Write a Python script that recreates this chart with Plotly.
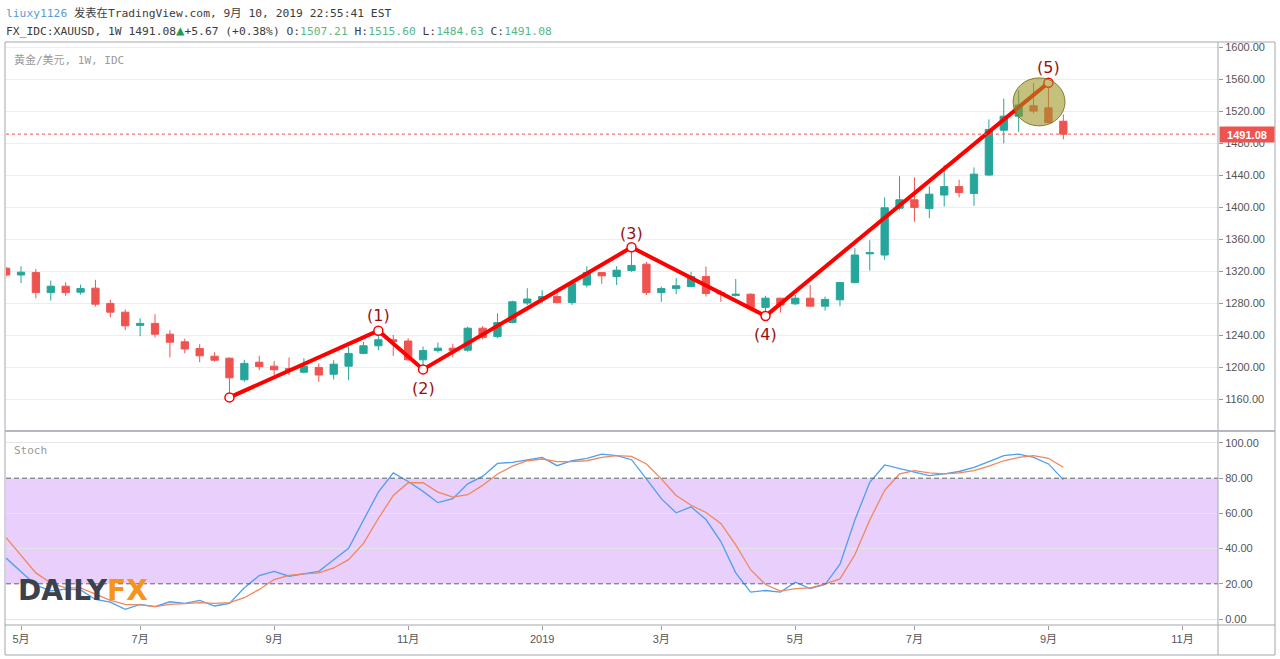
import pandas as pd
import plotly.graph_objects as go

# ---------------- data (weekly XAU/USD bars, Monday dates) ----------------
week_start = "2018-04-30"
n_weeks = 72

opens = [1323.5, 1315, 1318, 1293, 1301, 1293.5, 1298.5, 1279.5, 1268.5, 1252,
         1254.5, 1241, 1231.5, 1223, 1213.5, 1211, 1184, 1206, 1201, 1198,
         1193.5, 1199.5, 1191, 1201, 1217, 1226.5, 1234, 1232.5, 1209, 1220.5,
         1223.5, 1221, 1248.5, 1238, 1255.5, 1280, 1285, 1288, 1280.5, 1302.5,
         1318, 1313, 1320.5, 1328.5, 1293, 1298, 1300.5, 1313, 1293, 1289.5,
         1291, 1274.5, 1286, 1279, 1286, 1276, 1284, 1305.5, 1341.5, 1340,
         1398.5, 1409, 1398, 1415, 1425.5, 1417, 1440, 1496, 1513.5, 1526.5,
         1524, 1507.21]
highs = [1325, 1326, 1322.5, 1308, 1306, 1303, 1309, 1284, 1272, 1261,
         1266, 1246, 1235.5, 1228.5, 1218.5, 1212, 1209, 1214, 1207.5, 1212,
         1211, 1204.5, 1208.5, 1225.5, 1231.5, 1242, 1240, 1236, 1225.5, 1230.5,
         1229, 1250.5, 1251, 1267, 1283, 1298.5, 1296, 1292, 1309, 1326,
         1318.5, 1326, 1347, 1331.5, 1300.5, 1311, 1319, 1325.5, 1296, 1310,
         1292, 1289, 1286.5, 1290, 1302.5, 1288, 1306.5, 1348.5, 1358.5, 1412,
         1438.5, 1437, 1426, 1452.5, 1434, 1449.5, 1509.5, 1535.5, 1546, 1555,
         1557.5, 1515.6]
lows = [1313, 1305, 1286, 1283, 1289, 1290.5, 1275.5, 1262, 1246, 1238.5,
        1237, 1212, 1217, 1206, 1206.5, 1162.5, 1181.5, 1196, 1190, 1190,
        1192, 1181.5, 1184.5, 1183.5, 1216, 1221, 1214, 1208, 1197, 1218,
        1212, 1219, 1234.5, 1236, 1254.5, 1277.5, 1279.5, 1279.5, 1277.5, 1299.5,
        1304, 1302.5, 1319, 1290, 1281.5, 1291, 1299.5, 1288, 1281.5, 1288,
        1271, 1264, 1268, 1277.5, 1275.5, 1270.5, 1276, 1304.5, 1320.5, 1334,
        1396, 1381.5, 1386, 1400.5, 1412, 1401.5, 1438.5, 1479.5, 1494, 1517,
        1504.5, 1484.63]
closes = [1315, 1318.5, 1293, 1301, 1293, 1298, 1278.5, 1268.5, 1251.5, 1254.5,
          1241, 1231, 1222.5, 1214, 1208.5, 1186.5, 1204.5, 1200.5, 1196.5, 1196,
          1200.5, 1190, 1203.5, 1217, 1226.5, 1234, 1232, 1209, 1220.5, 1223.5,
          1220.5, 1248.5, 1237, 1255.5, 1281.5, 1285, 1288, 1280.5, 1304.5, 1318,
          1314, 1321, 1327, 1293, 1298, 1301.5, 1313, 1292, 1291.5, 1291,
          1274.5, 1286, 1277.5, 1286, 1276, 1284.5, 1305.5, 1340, 1343, 1399,
          1409, 1399.5, 1416, 1425.5, 1418, 1441, 1497, 1513.5, 1527.5, 1520,
          1505.5, 1491.08]

stoch_k = [34.6, 27, 19.2, 16, 17, 16.5, 11.1, 9.6, 5.5, 8.3,
           7, 9.8, 8.9, 10.6, 7.4, 8.9, 17.7, 24.7, 27.1, 24.3,
           25.8, 27.1, 33.7, 40.2, 56.2, 72.1, 83, 78.1, 72.5, 66.1,
           68.4, 76.8, 81, 88.4, 89, 90.5, 91.8, 87.1, 89.9, 91.3,
           93.7, 92.8, 90.5, 79.6, 68.4, 60.3, 63.7, 56.5, 44, 26.2,
           15.3, 16.2, 15.3, 20.9, 17.3, 19.6, 31.2, 56.2, 77.7, 87.5,
           85.3, 83.4, 81.5, 82.4, 83.8, 86.2, 89.4, 92.8, 93.7, 91.8,
           88.1, 79.2]
stoch_d = [46.2, 36.5, 26.2, 20.5, 17.7, 17.7, 14, 10.6, 8.3, 8,
           7, 8.3, 8.7, 9.3, 8.9, 9.3, 12.1, 16.8, 22.4, 24.8,
           25.6, 26.2, 29, 33.7, 43, 57.1, 70.2, 77.4, 77.4, 72.1,
           69.3, 70.6, 75.9, 82.4, 86.8, 89.9, 90.9, 89.4, 89.4, 89.9,
           91.8, 92.8, 92.4, 88.1, 79.6, 70.2, 64.6, 60.5, 54.3, 42.1,
           28, 19.6, 15.8, 17.3, 17.7, 20, 22.8, 36.5, 56.2, 73.1,
           82.4, 84.3, 83, 82.4, 83, 84.3, 86.8, 89.9, 91.8, 92.8,
           91.3, 86.2]

# Elliott wave points: bar position (0-based in the series), price, label
wave_bar = [15, 25, 28, 42, 51, 70]
wave_price = [1162, 1245.4, 1197, 1349.6, 1263.75, 1555.4]
wave_label = ["", "(1)", "(2)", "(3)", "(4)", "(5)"]
wave_label_shift = [0, 15, -19, 14, -18, 15]

last_price = 1491.08

month_ticks = ["2018-05-07", "2018-07-02", "2018-09-03", "2018-11-05", "2019-01-07",
               "2019-03-04", "2019-05-06", "2019-07-01", "2019-09-02", "2019-11-04"]
month_text = ["5月", "7月", "9月", "11月", "2019", "3月", "5月", "7月", "9月", "11月"]

price_ticks = [1160, 1200, 1240, 1280, 1320, 1360, 1400, 1440, 1480, 1520, 1560, 1600]
stoch_ticks = [0, 20, 40, 60, 80, 100]

x_range = ["2018-04-29 22:48", "2019-11-20 17:00"]
price_range = [1120, 1606.25]
stoch_range = [-3.4, 106.8]

# ---------------- figure ----------------
W, H = 1280, 659
dates = pd.date_range(week_start, periods=n_weeks, freq="7D")
date_str = [d.strftime("%Y-%m-%d") for d in dates]


def xp(px):
    return px / W


def yp(py):
    return 1 - py / H


def dstr(ts):
    return ts.strftime("%Y-%m-%d %H:%M")


UP, DN = "#26a69a", "#ef5350"
AXFONT = dict(family="Liberation Sans, Arial, Noto Sans CJK SC", size=11, color="#555555")
MONO = "DejaVu Sans Mono, Noto Sans CJK SC"

fig = go.Figure()

fig.add_trace(go.Candlestick(
    x=date_str, open=opens, high=highs, low=lows, close=closes,
    increasing=dict(line=dict(color=UP, width=1), fillcolor=UP),
    decreasing=dict(line=dict(color=DN, width=1), fillcolor=DN),
    whiskerwidth=0, xaxis="x", yaxis="y", showlegend=False, hoverinfo="skip",
))

wave_dates = [date_str[i] for i in wave_bar]
fig.add_trace(go.Scatter(
    x=wave_dates, y=wave_price, mode="lines+markers",
    line=dict(color="#ff0000", width=4),
    marker=dict(symbol="circle", size=9, color="white", line=dict(color="#ff0000", width=1.5)),
    xaxis="x", yaxis="y", showlegend=False, hoverinfo="skip",
))

fig.add_trace(go.Scatter(
    x=date_str, y=stoch_k, mode="lines", line=dict(color="#4c9ff2", width=1.3),
    xaxis="x", yaxis="y2", showlegend=False, hoverinfo="skip",
))
fig.add_trace(go.Scatter(
    x=date_str, y=stoch_d, mode="lines", line=dict(color="#f0875a", width=1.3),
    xaxis="x", yaxis="y2", showlegend=False, hoverinfo="skip",
))

shapes = []
# stochastic band
shapes.append(dict(type="rect", xref="x domain", yref="y2", x0=0, x1=1, y0=20, y1=80,
                   fillcolor="#e9cffc", line=dict(width=0), layer="below"))
for lvl in (20, 80):
    shapes.append(dict(type="line", xref="x domain", yref="y2", x0=0, x1=1, y0=lvl, y1=lvl,
                       line=dict(color="#5f6170", width=1, dash="5px,3px"), layer="above"))
# last price dotted line
shapes.append(dict(type="line", xref="x domain", yref="y", x0=0, x1=1, y0=last_price, y1=last_price,
                   line=dict(color=DN, width=1, dash="dot"), layer="above"))
# ellipse around wave 5
ell_center = pd.Timestamp(date_str[wave_bar[-1]]) - pd.Timedelta(hours=106)
ell_half = pd.Timedelta(hours=293)
ell_mid = wave_price[-1] - 24
ell_half_price = 30
shapes.append(dict(type="circle", xref="x", yref="y",
                   x0=dstr(ell_center - ell_half), x1=dstr(ell_center + ell_half),
                   y0=ell_mid - ell_half_price, y1=ell_mid + ell_half_price,
                   fillcolor="rgba(158,150,38,0.6)", line=dict(color="rgba(120,115,30,0.9)", width=1),
                   layer="above"))
# frame
FR = "#a3a6ad"
shapes.append(dict(type="rect", xref="paper", yref="paper", x0=xp(5), x1=xp(1275), y0=yp(655), y1=yp(42),
                   line=dict(color=FR, width=1)))
shapes.append(dict(type="line", xref="paper", yref="paper", x0=xp(1218), x1=xp(1218), y0=yp(655), y1=yp(42),
                   line=dict(color=FR, width=1)))
shapes.append(dict(type="line", xref="paper", yref="paper", x0=xp(5), x1=xp(1275), y0=yp(431), y1=yp(431),
                   line=dict(color="#b4b7bd", width=2)))
shapes.append(dict(type="line", xref="paper", yref="paper", x0=xp(5), x1=xp(1275), y0=yp(625), y1=yp(625),
                   line=dict(color=FR, width=1)))

ann = []
ann.append(dict(xref="paper", yref="paper", x=xp(4), y=yp(13), xanchor="left", yanchor="middle",
                showarrow=False, font=dict(family=MONO, size=11.3, color="#3c3c3c"),
                text='<span style="color:#5b9bd5">liuxy1126</span> 发表在TradingView.com, 9月 10, 2019 22:55:41 EST'))
G = "#53b987"
ann.append(dict(xref="paper", yref="paper", x=xp(4), y=yp(30), xanchor="left", yanchor="middle",
                showarrow=False, font=dict(family=MONO, size=11.3, color="#3c3c3c"),
                text=('FX_IDC:XAUUSD, 1W 1491.08<span style="color:#1e9e4a;font-size:14px">▲</span>+5.67 (+0.38%) '
                      f'O:<span style="color:{G}">1507.21</span> H:<span style="color:{G}">1515.60</span> '
                      f'L:<span style="color:{G}">1484.63</span> C:<span style="color:{G}">1491.08</span>')))
ann.append(dict(xref="paper", yref="paper", x=xp(12), y=yp(60), xanchor="left", yanchor="middle",
                showarrow=False, font=dict(family=MONO, size=11, color="#9a9a9a"),
                text="黄金/美元, 1W, IDC"))
ann.append(dict(xref="paper", yref="paper", x=xp(12), y=yp(450), xanchor="left", yanchor="middle",
                showarrow=False, font=dict(family=MONO, size=11, color="#9a9a9a"), text="Stoch"))
for d, p, t, s in zip(wave_dates, wave_price, wave_label, wave_label_shift):
    if t:
        ann.append(dict(x=d, y=p, xref="x", yref="y", text=t, showarrow=False, yshift=s,
                        font=dict(family="DejaVu Sans", size=16, color="#9a0f0f")))
ann.append(dict(xref="paper", yref="y", x=xp(1219), y=last_price, xanchor="left", yanchor="middle",
                showarrow=False, text="<b>1491.08</b>", bgcolor=DN, width=52, height=13, borderpad=1,
                font=dict(family="Liberation Sans, Arial", size=11, color="white")))
ann.append(dict(xref="paper", yref="paper", x=xp(16), y=yp(590), xanchor="left", yanchor="middle",
                showarrow=False, font=dict(family="DejaVu Sans", size=28),
                text='<b><span style="color:#3b414d">DAILY</span><span style="color:#f7941d">FX</span></b>'))

fig.update_layout(
    width=W, height=H, margin=dict(l=0, r=0, t=0, b=0),
    paper_bgcolor="white", plot_bgcolor="white", showlegend=False,
    shapes=shapes, annotations=ann,
    xaxis=dict(domain=[xp(6), xp(1218)], anchor="y2", type="date", range=x_range,
               tickvals=month_ticks, ticktext=month_text, ticks="outside", ticklen=4,
               tickcolor="#999999", tickfont=AXFONT, showgrid=False, zeroline=False,
               showline=False, rangeslider=dict(visible=False), fixedrange=True),
    yaxis=dict(domain=[yp(431), yp(42)], anchor="x", side="right", range=price_range,
               tickvals=price_ticks, tickformat=".2f", ticks="outside", ticklen=4,
               tickcolor="#999999", tickfont=AXFONT, showgrid=True, gridcolor="#ededed",
               zeroline=False, showline=False),
    yaxis2=dict(domain=[yp(625), yp(431)], anchor="x", side="right", range=stoch_range,
                tickvals=stoch_ticks, tickformat=".2f", ticks="outside", ticklen=4,
                tickcolor="#999999", tickfont=AXFONT, showgrid=True, gridcolor="#e6e6ea",
                zeroline=False, showline=False),
)

fig.write_html("out.html")
